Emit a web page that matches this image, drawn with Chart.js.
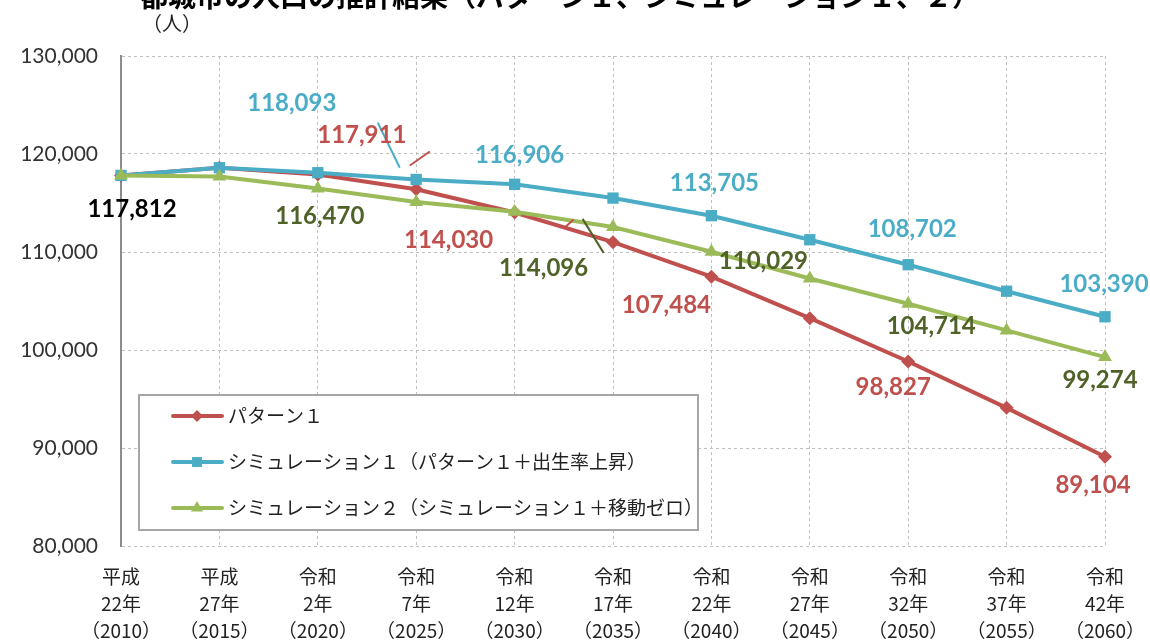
<!DOCTYPE html>
<html>
<head>
<meta charset="utf-8">
<script src="https://cdn.jsdelivr.net/npm/chart.js@4.4.1/dist/chart.umd.min.js"></script>
<style>
    html, body { margin: 0; padding: 0; background: #fff; }
    #wrap { width: 1150px; height: 644px; position: relative; }
</style>
</head>
<body>
<div id="wrap"><canvas id="myChart" width="1150" height="644"></canvas></div>
<script>
let eras = ['平成', '平成', '令和', '令和', '令和', '令和', '令和', '令和', '令和', '令和', '令和'];
let eraYears = ['22年', '27年', '2年', '7年', '12年', '17年', '22年', '27年', '32年', '37年', '42年'];
let westernYears = ['2010', '2015', '2020', '2025', '2030', '2035', '2040', '2045', '2050', '2055', '2060'];

let pattern1 = [117812, 118600, 117911, 116400, 114030, 111000, 107484, 103250, 98827, 94100, 89104];
let simulation1 = [117812, 118600, 118093, 117400, 116906, 115500, 113705, 111250, 108702, 106000, 103390];
let simulation2 = [117812, 117700, 116470, 115100, 114096, 112550, 110029, 107300, 104714, 102000, 99274];

let yTicks = [80000, 90000, 100000, 110000, 120000, 130000];

let seriesNames = [
    'パターン１',
    'シミュレーション１（パターン１＋出生率上昇）',
    'シミュレーション２（シミュレーション１＋移動ゼロ）'
];

let lineColors = ['#C0504D', '#4BACC6', '#9BBB59'];
let labelColors = ['#C0504D', '#4BACC6', '#4F6228'];
let markers = ['rectRot', 'rect', 'triangle'];
let markerSizes = [7, 8, 8];

// which points get a value label, and where it sits relative to the point
let labelSpots = [
    [[0, 11, 34, '#000'], [2, 44, -39], [4, -66, 28], [6, -45, 29], [8, -15, 26], [10, -12, 28]],
    [[2, -26, -69], [4, 5, -29], [6, 3, -32], [8, 4, -35], [10, -1, -33]],
    [[2, 2, 28], [4, 29, 56], [6, 52, 10], [8, 23, 22], [10, -5, 23]]
];

// short leader strokes left over in the source picture
let leaders = [
    [0, 2, 92, -9, 112, -23],
    [0, 4, 49, 16, 59, 7],
    [1, 2, 60, -50, 82, -5],
    [2, 4, 68, 7, 89, 41]
];

let labels = eras.map(function (e, i) {
    return [e, eraYears[i], '（' + westernYears[i] + '）'];
});

let allSeries = [pattern1, simulation1, simulation2];

let datasets = allSeries.map(function (s, i) {
    return {
        label: seriesNames[i],
        data: s,
        borderColor: lineColors[i],
        backgroundColor: lineColors[i],
        borderWidth: 4,
        pointStyle: markers[i],
        pointRadius: markerSizes[i],
        pointBorderWidth: 0,
        tension: 0,
        order: 3 - i
    };
});

let gridColor = '#bfbfbf';

let extras = {
    id: 'extras',
    afterDatasetsDraw: function (chart) {
        let ctx = chart.ctx;
        ctx.save();

        // leader strokes
        leaders.forEach(function (l) {
            let p = chart.getDatasetMeta(l[0]).data[l[1]];
            ctx.strokeStyle = labelColors[l[0]];
            ctx.lineWidth = 2;
            ctx.beginPath();
            ctx.moveTo(p.x + l[2], p.y + l[3]);
            ctx.lineTo(p.x + l[4], p.y + l[5]);
            ctx.stroke();
        });

        // value labels
        ctx.font = 'bold 24px Lato';
        ctx.textAlign = 'center';
        ctx.textBaseline = 'middle';
        labelSpots.forEach(function (spots, d) {
            let meta = chart.getDatasetMeta(d);
            spots.forEach(function (s) {
                let p = meta.data[s[0]];
                ctx.fillStyle = s[3] || labelColors[d];
                ctx.fillText(allSeries[d][s[0]].toLocaleString('en-US'), p.x + s[1], p.y + s[2]);
            });
        });

        // legend box
        let bx = 139, by = 395, bw = 559, bh = 135;
        ctx.fillStyle = '#fff';
        ctx.fillRect(bx, by, bw, bh);
        ctx.strokeStyle = '#a6a6a6';
        ctx.lineWidth = 2;
        ctx.strokeRect(bx, by, bw, bh);
        ctx.font = '19px "Noto Sans CJK JP"';
        ctx.textAlign = 'left';
        chart.data.datasets.forEach(function (ds, i) {
            let y = by + 21 + i * 46;
            ctx.strokeStyle = ds.borderColor;
            ctx.lineWidth = 4;
            ctx.lineCap = 'round';
            ctx.beginPath();
            ctx.moveTo(bx + 34, y);
            ctx.lineTo(bx + 83, y);
            ctx.stroke();
            ctx.fillStyle = ds.backgroundColor;
            Chart.helpers.drawPoint(ctx, { pointStyle: ds.pointStyle, radius: ds.pointRadius - 1, borderWidth: 0 }, bx + 58, y);
            ctx.fillStyle = '#222';
            ctx.fillText(ds.label, bx + 89, y);
        });

        ctx.restore();
    },
    afterDraw: function (chart) {
        let ctx = chart.ctx;
        ctx.save();
        ctx.fillStyle = '#000';
        ctx.textBaseline = 'alphabetic';
        ctx.textAlign = 'left';
        ctx.font = 'bold 28px "Noto Sans CJK JP"';
        ctx.fillText('都城市の人口の推計結果（パターン１、シミュレーション１、２）', 140, 7);
        ctx.font = '20px "Noto Sans CJK JP"';
        ctx.fillStyle = '#222';
        ctx.textBaseline = 'middle';
        ctx.fillText('（人）', 142, 23);
        ctx.restore();
    }
};

new Chart(document.getElementById('myChart'), {
    type: 'line',
    data: { labels: labels, datasets: datasets },
    plugins: [extras],
    options: {
        responsive: false,
        animation: false,
        layout: { padding: { top: 56, right: 45, left: 0, bottom: 0 } },
        plugins: {
            legend: { display: false },
            tooltip: { enabled: false }
        },
        scales: {
            x: {
                offset: false,
                grid: { color: gridColor, lineWidth: 1, drawTicks: false },
                border: { display: false, dash: [3, 3] },
                ticks: {
                    autoSkip: false,
                    maxRotation: 0,
                    padding: 17,
                    color: '#222',
                    font: { family: '"Noto Sans CJK JP"', size: 19, lineHeight: 1.42 }
                },
                afterFit: function (scale) {
                    scale.height = 98;
                    scale.paddingLeft = 0;
                    scale.paddingRight = 0;
                }
            },
            y: {
                min: 80000,
                max: 130000,
                afterBuildTicks: function (scale) {
                    scale.ticks = yTicks.map(function (v) { return { value: v }; });
                },
                grid: { color: gridColor, lineWidth: 1, drawTicks: false },
                border: { display: true, color: '#8c8c8c', width: 2, dash: [3, 3] },
                ticks: {
                    padding: 23,
                    color: '#333',
                    font: { family: 'Lato', size: 21 },
                    callback: function (v) { return v.toLocaleString('en-US'); }
                },
                afterFit: function (scale) { scale.width = 121; }
            }
        }
    }
});
</script>
</body>
</html>
